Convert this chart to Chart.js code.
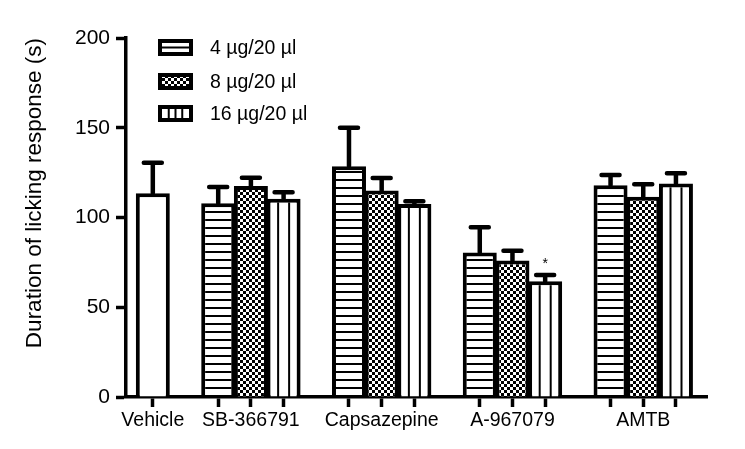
<!DOCTYPE html>
<html>
<head>
<meta charset="utf-8">
<script src="https://cdn.jsdelivr.net/npm/chart.js@4.4.1/dist/chart.umd.min.js"></script>
<style>
  html, body { margin: 0; padding: 0; background: #fff; }
  #wrap { width: 745px; height: 449px; }
</style>
</head>
<body>
<div id="wrap"><canvas id="chart" width="745" height="449"></canvas></div>
<script>
const groups = ['Vehicle', 'SB-366791', 'Capsazepine', 'A-967079', 'AMTB'];
const doseLabels = ['4 µg/20 µl', '8 µg/20 µl', '16 µg/20 µl'];
const vehicleMean = [113.5];
const vehicleErr = [17];
// one value per drug: SB-366791, Capsazepine, A-967079, AMTB
const dose4Mean = [108, 128.5, 80.5, 118];
const dose4Err = [9, 21.5, 14, 5.7];
const dose8Mean = [117.5, 115, 76, 111.5];
const dose8Err = [4.7, 7, 5.5, 7];
const dose16Mean = [110.5, 107.5, 64.5, 119];
const dose16Err = [3.5, 1.5, 3.5, 5.6];
const dose16Star = [false, false, true, false];
const yTicks = [0, 50, 100, 150, 200];

const FONT = "'Liberation Sans', Arial, sans-serif";
const canvas = document.getElementById('chart');
const ctx = canvas.getContext('2d');

// bar slots: vehicle at 0, each drug gets 3 slots with one empty slot in between
const slotOf = (drug, dose) => 2 + 4 * drug + dose;
const slots = [0];
const labelAt = { 0: groups[0] };
for (let d = 0; d < 4; d++) {
  for (let k = 0; k < 3; k++) slots.push(slotOf(d, k));
  labelAt[slotOf(d, 1)] = groups[d + 1];
}

function makeTile(w, h, draw) {
  const c = document.createElement('canvas');
  c.width = w; c.height = h;
  const g = c.getContext('2d');
  g.fillStyle = '#fff';
  g.fillRect(0, 0, w, h);
  g.fillStyle = '#000';
  draw(g);
  return c;
}

const hTile = makeTile(8, 8, g => g.fillRect(0, 3, 8, 2));
const checkTile = makeTile(6, 6, g => { g.fillRect(0, 0, 3, 3); g.fillRect(3, 3, 3, 3); });
const vTile = makeTile(11, 4, g => g.fillRect(4, 0, 2, 4));
const hPattern = ctx.createPattern(hTile, 'repeat');
const checkPattern = ctx.createPattern(checkTile, 'repeat');

function vStripe(c) {
  const p = ctx.createPattern(vTile, 'repeat');
  if (c.type === 'data' && c.chart.scales.x) {
    const cx = c.chart.scales.x.getPixelForValue(c.parsed.x);
    p.setTransform(new DOMMatrix().translateSelf(cx - 10.5, 0));
  }
  return p;
}

const doseMeans = [dose4Mean, dose8Mean, dose16Mean];
const doseErrs = [dose4Err, dose8Err, dose16Err];
const doseFills = [hPattern, checkPattern, vStripe];

const datasets = [{
  label: groups[0],
  data: vehicleMean.map(v => ({ x: 0, y: v })),
  errs: vehicleErr,
  backgroundColor: '#fff'
}];
doseLabels.forEach((lbl, k) => {
  datasets.push({
    label: lbl,
    data: doseMeans[k].map((v, d) => ({ x: slotOf(d, k), y: v })),
    errs: doseErrs[k],
    stars: k === 2 ? dose16Star : null,
    backgroundColor: doseFills[k]
  });
});
datasets.forEach(ds => Object.assign(ds, {
  borderColor: '#000',
  borderWidth: 4,
  grouped: false,
  barPercentage: 1.04,
  categoryPercentage: 1
}));

const errorBars = {
  id: 'errorBars',
  afterDatasetsDraw(chart) {
    const c = chart.ctx;
    const y = chart.scales.y;
    c.save();
    c.strokeStyle = '#000';
    c.fillStyle = '#000';
    c.lineWidth = 4.5;
    c.lineCap = 'round';
    chart.data.datasets.forEach((ds, i) => {
      chart.getDatasetMeta(i).data.forEach((bar, j) => {
        const top = y.getPixelForValue(ds.data[j].y + ds.errs[j]);
        c.beginPath();
        c.moveTo(bar.x, bar.y);
        c.lineTo(bar.x, top);
        c.moveTo(bar.x - 9, top);
        c.lineTo(bar.x + 9, top);
        c.stroke();
        if (ds.stars && ds.stars[j]) {
          c.font = '14px ' + FONT;
          c.textAlign = 'center';
          c.textBaseline = 'middle';
          c.fillText('*', bar.x, top - 11);
        }
      });
    });
    c.restore();
  }
};

const doseLegend = {
  id: 'doseLegend',
  afterDraw(chart) {
    const c = chart.ctx;
    const rows = [47.5, 81.5, 113.5];
    c.save();
    rows.forEach((ry, k) => {
      const bx = 158, by = ry - 8.5, bw = 35, bh = 17;
      c.fillStyle = '#000';
      c.fillRect(bx, by, bw, bh);
      const ix = bx + 4, iy = by + 4, iw = bw - 8, ih = bh - 8;
      c.fillStyle = '#fff';
      c.fillRect(ix, iy, iw, ih);
      c.fillStyle = '#000';
      if (k === 0) {
        c.fillRect(ix, ry - 1, iw, 2);
      } else if (k === 1) {
        c.fillStyle = checkPattern;
        c.fillRect(ix, iy, iw, ih);
      } else {
        for (let n = 1; n <= 3; n++) c.fillRect(ix + n * iw / 4 - 1, iy, 2, ih);
      }
      c.fillStyle = '#000';
      c.font = '19.5px ' + FONT;
      c.textAlign = 'left';
      c.textBaseline = 'middle';
      c.fillText(doseLabels[k], 210, ry + 1);
    });
    c.restore();
  }
};

new Chart(ctx, {
  type: 'bar',
  data: { datasets },
  options: {
    responsive: false,
    animation: false,
    events: [],
    devicePixelRatio: 1,
    layout: { padding: { left: 0, top: 38, right: 38, bottom: 0 } },
    plugins: { legend: { display: false }, tooltip: { enabled: false } },
    scales: {
      x: {
        type: 'linear',
        min: -0.82,
        max: 16.95,
        offset: false,
        afterBuildTicks: s => { s.ticks = slots.map(v => ({ value: v })); },
        afterFit: s => { s.height = 52; },
        border: { display: true, color: '#000', width: 3.5 },
        grid: { offset: false, drawOnChartArea: false, drawTicks: true, tickLength: 10, tickWidth: 3.5, tickColor: '#000' },
        ticks: {
          autoSkip: false, maxRotation: 0, minRotation: 0, padding: 2, color: '#000',
          font: { family: FONT, size: 19.5 },
          callback: v => labelAt[v] || ''
        }
      },
      y: {
        min: 0,
        max: 200,
        afterBuildTicks: s => { s.ticks = yTicks.map(v => ({ value: v })); },
        afterFit: s => { s.width = 126; },
        border: { display: true, color: '#000', width: 3.5 },
        grid: { drawOnChartArea: false, drawTicks: true, tickLength: 10, tickWidth: 3.5, tickColor: '#000' },
        ticks: { color: '#000', padding: 6, font: { family: FONT, size: 21 } },
        title: {
          display: true,
          text: 'Duration of licking response (s)',
          align: 'end',
          color: '#000',
          font: { family: FONT, size: 22.5 },
          padding: { top: 21, bottom: 0 }
        }
      }
    }
  },
  plugins: [errorBars, doseLegend]
});
</script>
</body>
</html>
